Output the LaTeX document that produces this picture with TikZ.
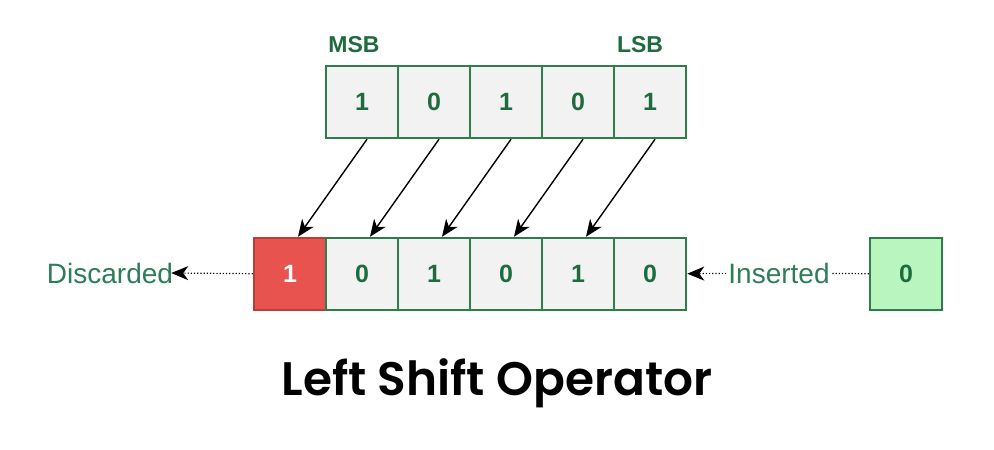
\documentclass[tikz,border=0pt]{standalone}
\usepackage{fontspec}
\setmainfont{Liberation Sans}
\newfontfamily\titlefont{Poppins}[UprightFont={Poppins SemiBold}]
\usepackage{xcolor}
\usetikzlibrary{arrows.meta}
\definecolor{cellline}{HTML}{2F7D4B}
\definecolor{celltext}{HTML}{1F6B3F}
\definecolor{cellfill}{HTML}{F2F2F2}
\definecolor{dropfill}{HTML}{E9534F}
\definecolor{dropline}{HTML}{B5403B}
\definecolor{newfill}{HTML}{B9F5BF}
\definecolor{labeltext}{HTML}{2E7D59}

\begin{document}
\begin{tikzpicture}[x=1pt,y=-1pt,>={Stealth[length=17pt,width=14pt,inset=5pt]},node distance=72pt,
    cell/.style={rectangle,draw=cellline,fill=cellfill,line width=2.5pt,minimum size=72pt,inner sep=0pt,text=celltext,font=\fontsize{25}{30}\selectfont\bfseries},
    side label/.style={text=labeltext,font=\fontsize{28}{32}\selectfont,inner sep=2pt},
    bit label/.style={text=celltext,font=\fontsize{23}{26}\selectfont\bfseries},
    move/.style={->,black,line width=1.4pt},
    drop/.style={->,black,dotted,line width=1.2pt}]
                \useasboundingbox (0,0) rectangle (994,450);

                \node[cell] (t1) at (362,102) {1};
                \node[cell] (t2) [right of = t1] {0};
                \node[cell] (t3) [right of = t2] {1};
                \node[cell] (t4) [right of = t3] {0};
                \node[cell] (t5) [right of = t4] {1};

                \node[bit label] (msb) at (354,45) {MSB};
                \node[bit label] (lsb) at (640,45) {LSB};

                \node[cell, fill=dropfill, draw=dropline, text=white] (b1) at (290,274) {1};
                \node[cell] (b2) [right of = b1] {0};
                \node[cell] (b3) [right of = b2] {1};
                \node[cell] (b4) [right of = b3] {0};
                \node[cell] (b5) [right of = b4] {1};
                \node[cell] (b6) [right of = b5] {0};

                \node[cell, fill=newfill] (new) at (906,274) {0};

                \node[side label] (disc) at (110,273) {Discarded};
                \node[side label] (ins) at (779,273) {Inserted};

                \node[font=\titlefont\fontsize{47}{52}\selectfont] (title) at (497,383) {Left Shift Operator};

                \path[move]
                    ([xshift=5pt]t1.south) edge ([xshift=8pt]b1.north)
                    ([xshift=5pt]t2.south) edge ([xshift=8pt]b2.north)
                    ([xshift=5pt]t3.south) edge ([xshift=8pt]b3.north)
                    ([xshift=5pt]t4.south) edge ([xshift=8pt]b4.north)
                    ([xshift=5pt]t5.south) edge ([xshift=8pt]b5.north)
                ;

                \draw[drop] (b1) -- ([xshift=-4pt]disc.east);
                \draw[dotted,line width=1.2pt] (new) -- (ins);
                \draw[drop] (ins) -- (b6);
\end{tikzpicture}
\end{document}
